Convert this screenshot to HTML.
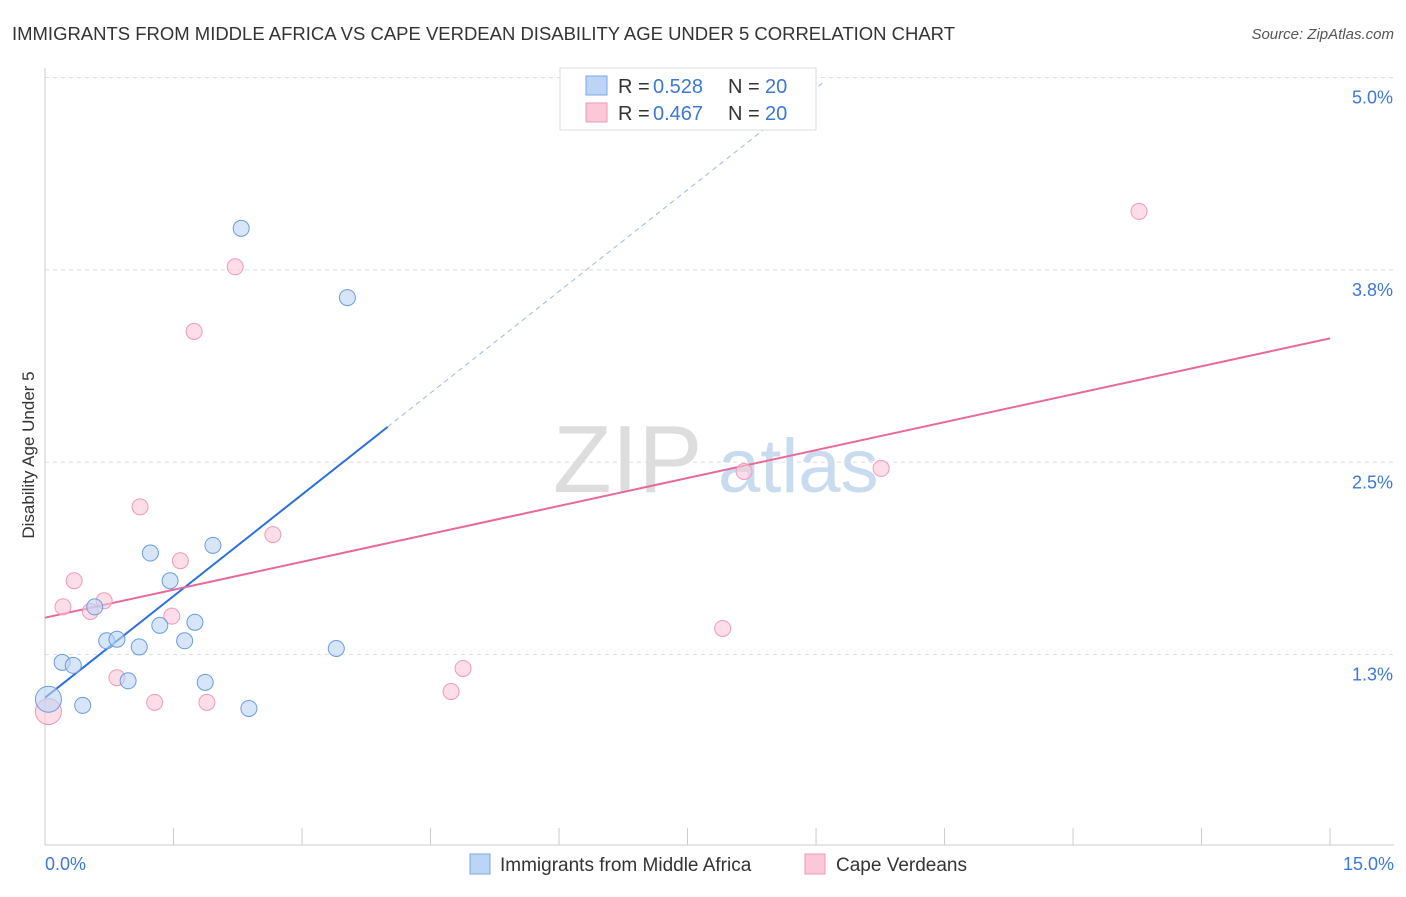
<!DOCTYPE html>
<html><head><meta charset="utf-8"><style>
body{margin:0;background:#fff;font-family:"Liberation Sans",sans-serif;}
svg text{font-family:"Liberation Sans",sans-serif;}
</style></head><body>
<svg id="c" width="1406" height="892" xmlns="http://www.w3.org/2000/svg">
<text x="12" y="40" font-size="18" fill="#333" textLength="943" lengthAdjust="spacingAndGlyphs">IMMIGRANTS FROM MIDDLE AFRICA VS CAPE VERDEAN DISABILITY AGE UNDER 5 CORRELATION CHART</text>
<text x="1394" y="39" font-size="15" fill="#555" font-style="italic" text-anchor="end">Source: ZipAtlas.com</text>
<text transform="translate(34,455) rotate(-90)" font-size="17" fill="#333" text-anchor="middle">Disability Age Under 5</text>
<text x="553" y="492" font-size="96" fill="#ddd" font-family="Liberation Serif">ZIP</text>
<text x="718" y="492" font-size="76" fill="#c9dcef">atlas</text>
<g id="grid"></g><g id="lines"></g><g id="pts"></g>
<g>
<rect x="560" y="68" width="256" height="62" fill="#fff" stroke="#ddd"/>
<rect x="586" y="76" width="21" height="19" fill="#bcd4f5" stroke="#7aa7e6"/>
<rect x="586" y="103" width="21" height="19" fill="#fbc8d8" stroke="#ef9ab6"/>
<text y="93" font-size="20" fill="#333"><tspan x="618">R =</tspan><tspan x="653" fill="#3b78d8">0.528</tspan><tspan x="728">N =</tspan><tspan x="765" fill="#3b78d8">20</tspan></text>
<text y="120" font-size="20" fill="#333"><tspan x="618">R =</tspan><tspan x="653" fill="#3b78d8">0.467</tspan><tspan x="728">N =</tspan><tspan x="765" fill="#3b78d8">20</tspan></text>
</g>
<g>
<rect x="470" y="854" width="20" height="20" fill="#bcd4f5" stroke="#7aa7e6"/>
<text x="500" y="871" font-size="19" fill="#333">Immigrants from Middle Africa</text>
<rect x="805" y="854" width="20" height="20" fill="#fbc8d8" stroke="#ef9ab6"/>
<text x="836" y="871" font-size="19" fill="#333">Cape Verdeans</text>
</g>
<text x="45" y="870" font-size="18" fill="#3b78d8">0.0%</text>
<text x="1394" y="870" font-size="18" fill="#3b78d8" text-anchor="end">15.0%</text>
</svg>
<script>
const yTicks=[1.25,2.5,3.75,5.0];
const yTickLabels=["1.3%","2.5%","3.8%","5.0%"];
const blueX=[2.29,3.53,1.23,1.96,1.46,0.58,1.75,1.34,0.72,0.84,1.63,1.10,3.40,0.20,0.33,0.97,1.87,0.44,2.38,0.04];
const blueY=[4.02,3.57,1.91,1.96,1.73,1.56,1.46,1.44,1.34,1.35,1.34,1.30,1.29,1.20,1.18,1.08,1.07,0.92,0.90,0.96];
const pinkX=[12.77,2.22,1.74,1.11,2.66,1.58,0.34,0.21,0.69,0.53,1.48,7.91,4.88,0.84,1.28,1.89,4.74,8.16,9.76,0.04];
const pinkY=[4.13,3.77,3.35,2.21,2.03,1.86,1.73,1.56,1.60,1.53,1.50,1.42,1.16,1.10,0.94,0.94,1.01,2.44,2.46,0.88];
const blueFit=[0.97,0.44]; // intercept, slope
const pinkFit=[1.49,0.121];
const X=v=>45+v*85.67, Y=v=>847-v*153.9;
const NS="http://www.w3.org/2000/svg";
function mk(tag,attrs,parent){const e=document.createElementNS(NS,tag);for(const k in attrs)e.setAttribute(k,attrs[k]);parent.appendChild(e);return e;}
const g=document.getElementById('grid'),L=document.getElementById('lines'),P=document.getElementById('pts');
yTicks.forEach((t,i)=>{
 const l=mk('line',{x1:45,x2:1394,y1:Y(t),y2:Y(t),stroke:'#ddd','stroke-dasharray':'4,4'},g);
 
 
 const tx=mk('text',{x:1393,y:Y(t)+26,'font-size':18,fill:'#3b78d8','text-anchor':'end'},g);
 tx.textContent=yTickLabels[i];
 
 
});
mk('line',{x1:45,x2:45,y1:68,y2:845,stroke:'#ccc'},g);
mk('line',{x1:45,x2:1394,y1:845,y2:845,stroke:'#ccc'},g);
for(let i=0;i<=10;i++){const t=mk('line',{x1:X(i*1.5),x2:X(i*1.5),y1:828,y2:845,stroke:'#ccc'},g);
 
 }
let bl=mk('line',{x1:X(0),y1:Y(blueFit[0]),x2:X(4),y2:Y(blueFit[0]+blueFit[1]*4),stroke:'#2a6fdb','stroke-width':2},L);


let bd=mk('line',{x1:X(4),y1:Y(blueFit[0]+blueFit[1]*4),x2:X(9.1),y2:Y(blueFit[0]+blueFit[1]*9.1),stroke:'#9bbbe0','stroke-width':1,'stroke-dasharray':'5,4'},L);


let pl=mk('line',{x1:X(0),y1:Y(pinkFit[0]),x2:X(15),y2:Y(pinkFit[0]+pinkFit[1]*15),stroke:'#e8699a','stroke-width':2},L);


function pts(xs,ys,fill,stroke,name){xs.forEach((x,i)=>{
 const big=i===xs.length-1;
 const c=mk('circle',{cx:X(x),cy:Y(ys[i]),r:big?13:8,fill:fill,'fill-opacity':0.6,stroke:stroke,'stroke-width':1},P);
 
 
});}
pts(pinkX,pinkY,'#fbc8d8','#ef9ab6','cape-verdean-point');
pts(blueX,blueY,'#bcd4f5','#6a9be0','middle-africa-point');
</script>
</body></html>
